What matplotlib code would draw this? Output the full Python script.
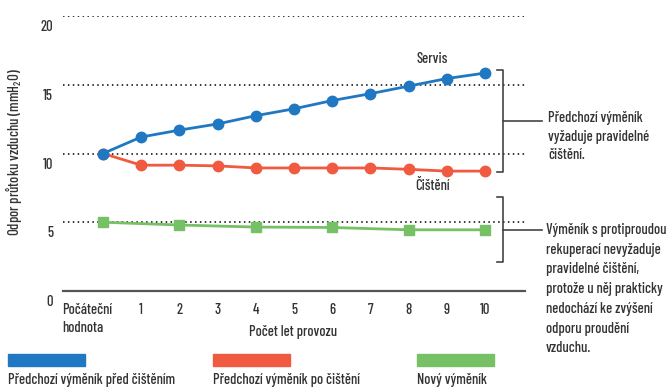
import matplotlib
matplotlib.use("Agg")
from matplotlib import pyplot as plt
from matplotlib import transforms as mtransforms
from matplotlib.patches import Rectangle

# data
years = [0, 1, 2, 3, 4, 5, 6, 7, 8, 9, 10]
x_labels = ["Počáteční\nhodnota", "1", "2", "3", "4", "5", "6", "7", "8", "9", "10"]
before_cleaning = [10.0, 11.2, 11.7, 12.15, 12.75, 13.25, 13.85, 14.35, 14.9, 15.45, 15.85]
after_cleaning = [10.0, 9.15, 9.15, 9.1, 8.95, 8.95, 8.95, 8.95, 8.85, 8.72, 8.72]
new_years = [0, 2, 4, 6, 8, 10]
new_exchanger = [5.0, 4.8, 4.65, 4.62, 4.45, 4.45]
y_ticks = [0, 5, 10, 15, 20]

series_names = ["Předchozí výměník před čištěním", "Předchozí výměník po čištění", "Nový výměník"]
colors = ["#1f78c1", "#f05a40", "#76c066"]
text_col = "#333333"
FS = 10.5

plt.rcParams['font.family'] = ['Barlow Condensed', 'DejaVu Sans']
plt.rcParams['font.weight'] = 'medium'
plt.rcParams['mathtext.fontset'] = 'custom'
plt.rcParams['mathtext.rm'] = 'Barlow Condensed:medium'
plt.rcParams['mathtext.it'] = 'Barlow Condensed:medium'

W, H = 666, 387
fig = plt.figure(figsize=(W / 100, H / 100), dpi=100)


def fx(px):
    return px / W


def fy(py):
    return 1 - py / H


# axes placed so that y=0 sits at pixel 291 and y=20 at pixel 16
ax = fig.add_axes([fx(63), fy(291), fx(525) - fx(63), fy(16) - fy(291)])
step = 38.2
ax.set_xlim((63 - 103) / step, (525 - 103) / step)
ax.set_ylim(0, 20)

for v in y_ticks[1:]:
    ax.axhline(v, color="black", linestyle=(0, (1, 2.2)), linewidth=1.1, zorder=1)

for s in ["top", "right", "left"]:
    ax.spines[s].set_visible(False)
ax.spines["bottom"].set_color("#555555")
ax.spines["bottom"].set_linewidth(1.6)

ax.plot(years, before_cleaning, color=colors[0], lw=2, marker="o", ms=7.5, zorder=3, clip_on=False)
ax.plot(years, after_cleaning, color=colors[1], lw=2, marker="o", ms=7.5, zorder=2, clip_on=False)
ax.plot(new_years, new_exchanger, color=colors[2], lw=2, marker="s", ms=7.5, zorder=3, clip_on=False)

ax.set_yticks(y_ticks)
ax.set_yticklabels([str(v) for v in y_ticks])
ax.set_xticks(years)
ax.set_xticklabels(x_labels, linespacing=1.35)
ax.tick_params(length=0, labelsize=FS, labelcolor=text_col)
ax.tick_params(axis="y", pad=7)
ax.tick_params(axis="x", pad=9)
offset = mtransforms.ScaledTranslation(0, -7 / 72, fig.dpi_scale_trans)
for lab in ax.get_yticklabels():
    lab.set_transform(lab.get_transform() + offset)
first = ax.get_xticklabels()[0]
first.set_horizontalalignment("left")
first.set_transform(first.get_transform() + mtransforms.ScaledTranslation(-41 / 100, 0, fig.dpi_scale_trans))

fig.text(fx(293), fy(332), "Počet let provozu", ha="center", va="center", fontsize=FS, color=text_col)
fig.text(fx(14), fy(152), "Odpor průtoku vzduchu (mmH$_2$O)", rotation=90, ha="center", va="center",
         fontsize=FS, color=text_col)

fig.text(fx(432), fy(59), "Servis", ha="center", va="center", fontsize=FS, color=text_col)
fig.text(fx(433), fy(186), "Čištění", ha="center", va="center", fontsize=FS, color=text_col)


# brackets on the right
def bracket(top, bottom, mid):
    kw = dict(color="#444444", lw=1.2, transform=fig.transFigure, clip_on=False)
    fig.add_artist(plt.Line2D([fx(497), fx(503), fx(503), fx(497)], [fy(top), fy(top), fy(bottom), fy(bottom)], **kw))
    fig.add_artist(plt.Line2D([fx(503), fx(542)], [fy(mid), fy(mid)], **kw))


bracket(70, 172, 121)
bracket(197, 262, 230)

fig.text(fx(548), fy(111), "Předchozí výměník\nvyžaduje pravidelné\nčištění.", ha="left", va="top",
         fontsize=FS, color=text_col, linespacing=1.42)
fig.text(fx(546), fy(223), "Výměník s protiproudou\nrekuperací nevyžaduje\npravidelné čištění,\nprotože u něj prakticky\n"
         "nedochází ke zvýšení\nodporu proudění\nvzduchu.", ha="left", va="top",
         fontsize=FS, color=text_col, linespacing=1.52)

# legend swatches
for x0, name, c in zip([8, 213, 417], series_names, colors):
    fig.add_artist(Rectangle((fx(x0), fy(366)), fx(77), fy(354) - fy(366), color=c, transform=fig.transFigure))
    fig.text(fx(x0), fy(373), name, ha="left", va="top", fontsize=FS, color=text_col)

fig.savefig("out.png", dpi=100)
